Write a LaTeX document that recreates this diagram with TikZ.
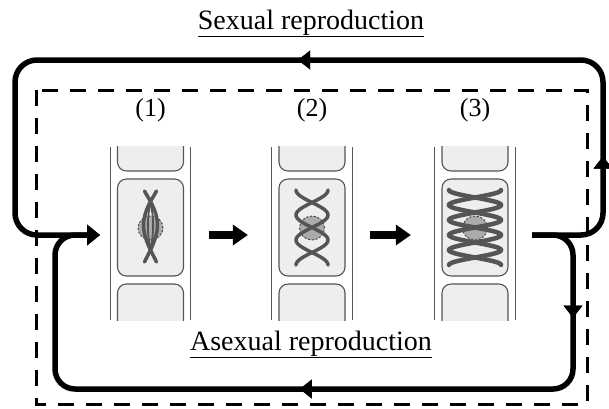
\documentclass[tikz,border=0pt]{standalone}
\usepackage{fontspec}
\setmainfont{Liberation Serif}
\usetikzlibrary{arrows.meta,decorations.markings}
\definecolor{strandcol}{HTML}{555555}
\definecolor{boxfill}{HTML}{EEEEEE}
\definecolor{boxline}{HTML}{555555}
\definecolor{nuclfill}{HTML}{ABABAB}
\begin{document}
\begin{tikzpicture}[x=1pt,y=-1pt,
  cyclepath/.style={line width=5.5pt, line join=round},
  endtip/.style={-{Triangle[length=13pt,width=21pt,line width=0pt]}},
  midtip/.style={postaction={decorate},
    decoration={markings, mark=at position #1 with {\arrow{Triangle[length=12pt,width=19pt,line width=0pt]}}}},
  dashbox/.style={line width=3pt, dash pattern=on 16pt off 12pt},
  cellframe/.style={minimum width=80pt, minimum height=173pt, inner sep=0pt, draw=none},
  frameline/.style={draw=boxline, line width=1pt},
  cellbox/.style={draw=boxline, fill=boxfill, line width=1.1pt, rounded corners=9pt},
  nucleolus/.style={draw=black!75, fill=nuclfill, line width=0.9pt, dash pattern=on 2.2pt off 1.6pt},
  strand/.style={draw=strandcol, line width=3.5pt, line cap=round},
  cellarrow/.style={line width=7.5pt, -{Triangle[length=15pt,width=21pt,line width=0pt]}, shorten <=18pt, shorten >=24pt},
  title/.style={font=\fontsize{28}{32}\selectfont, anchor=base, inner sep=0pt},
  numlabel/.style={font=\fontsize{26}{30}\selectfont, anchor=base, inner sep=0pt}
]
\useasboundingbox (0,0) rectangle (609,408);

% headings
\node[title] (sexlbl) at (311,29) {\underline{Sexual reproduction}};
\node[title] (asexlbl) at (311,350) {\underline{Asexual reproduction}};

% dashed outline of the whole cycle
\draw[dashbox] (36,90) rectangle (587,404);

% the three cells in their channel
\foreach \i/\cx in {1/150.5, 2/312, 3/475} {
  \node[cellframe] (c\i) at (\cx,233.5) {};
  \node[numlabel] (l\i) at (\cx,116) {(\i)};
  \begin{scope}
    \clip (c\i.north west) rectangle (c\i.south east);
    \draw[cellbox] (\cx-33,125) rectangle (\cx+33,171);
    \draw[cellbox] (\cx-33,284) rectangle (\cx+33,345);
  \end{scope}
  \draw[cellbox] (\cx-33,179) rectangle (\cx+33,276);
  \draw[frameline] (c\i.north west) -- (c\i.south west)
                   (c\i.north east) -- (c\i.south east);
  \draw[nucleolus] (\cx,228) ellipse [x radius=12.5pt, y radius=12pt];
}

% chromosomes, cell 1
\draw[strand] (144.5,191) .. controls (147.5,197) and (157.5,210) .. (157.5,225)
              .. controls (157.5,240) and (147.5,255) .. (144.5,262);
\draw[strand] (156.5,191) .. controls (153.5,197) and (143.5,210) .. (143.5,225)
              .. controls (143.5,240) and (153.5,255) .. (156.5,262);
\draw[strand, line width=1.8pt] (150.5,204) .. controls (147,215) and (147,236) .. (150.5,247);
\draw[strand, line width=1.8pt] (150.5,204) .. controls (154,215) and (154,236) .. (150.5,247);

% chromosomes, cell 2
\draw[strand] plot[domain=190:265, samples=90, smooth] ({312-16*cos(180*(\x-190)/25)},\x);
\draw[strand] plot[domain=190:265, samples=90, smooth] ({312+16*cos(180*(\x-190)/25)},\x);

% chromosomes, cell 3
\draw[strand, line width=4.5pt] plot[domain=190:265, samples=120, smooth] ({475-26*cos(180*(\x-190)/15)},\x);
\draw[strand, line width=4.5pt] plot[domain=190:265, samples=120, smooth] ({475+26*cos(180*(\x-190)/15)},\x);

% progression arrows between cells
\draw[cellarrow] (c1.east |- 0,235) -- (c2.west |- 0,235);
\draw[cellarrow] (c2.east |- 0,235) -- (c3.west |- 0,235);

% cycle connectors
\coordinate (outpt) at (532,235);
\coordinate (inpt) at (100,235);
\draw[cyclepath, rounded corners=22pt, endtip, midtip=140pt, midtip=532pt]
  (outpt) -- (603,235) -- (603,60) -- (15,60) -- (15,235) -- (inpt);
\draw[cyclepath, rounded corners=20pt, endtip, midtip=115pt, midtip=451pt]
  (outpt) -- (573,235) -- (573,389) -- (55,389) -- (55,235) -- (inpt);
\end{tikzpicture}
\end{document}
